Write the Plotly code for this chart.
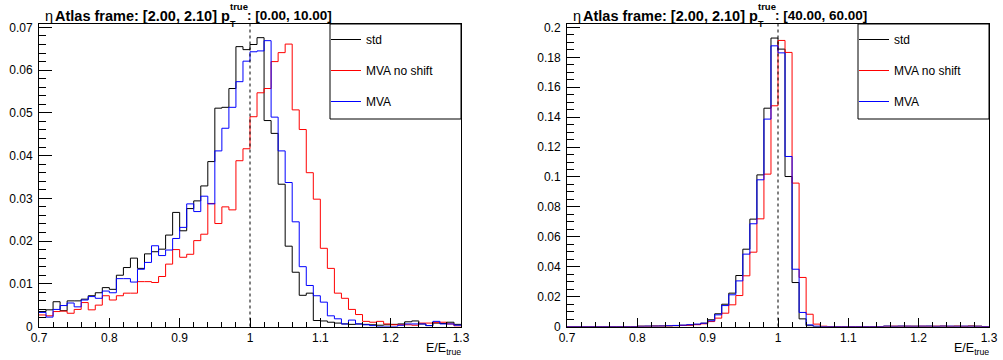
import plotly.graph_objects as go

# ---------------- data ----------------
bin_low = 0.70
bin_width = 0.01
n_bins = 60

series_names = ["std", "MVA no shift", "MVA"]

left_std = [0.0035, 0.0039, 0.0058, 0.0037, 0.0060, 0.0060, 0.0064, 0.0072, 0.0079, 0.0091,
            0.0087, 0.0120, 0.0138, 0.0160, 0.0136, 0.0170, 0.0175, 0.0181, 0.0214, 0.0267,
            0.0224, 0.0276, 0.0294, 0.0329, 0.0386, 0.0511, 0.0513, 0.0557, 0.0655, 0.0648,
            0.0660, 0.0676, 0.0482, 0.0452, 0.0333, 0.0188, 0.0127, 0.0073, 0.0078, 0.0014,
            0.0013, 0.0010, 0.0008, 0.0006, 0.0005, 0.0006, 0.0005, 0.0004, 0.0003, 0.0004,
            0.0005, 0.0006, 0.0011, 0.0013, 0.0006, 0.0002, 0.0008, 0.0007, 0.0010, 0.0005]

left_noshift = [0.0027, 0.0025, 0.0035, 0.0036, 0.0031, 0.0040, 0.0056, 0.0039, 0.0050, 0.0072,
                0.0062, 0.0072, 0.0078, 0.0078, 0.0105, 0.0105, 0.0103, 0.0117, 0.0146, 0.0180,
                0.0162, 0.0169, 0.0201, 0.0216, 0.0288, 0.0241, 0.0280, 0.0273, 0.0388, 0.0416,
                0.0491, 0.0547, 0.0557, 0.0620, 0.0641, 0.0661, 0.0507, 0.0461, 0.0360, 0.0298,
                0.0183, 0.0136, 0.0078, 0.0066, 0.0040, 0.0028, 0.0012, 0.0010, 0.0012, 0.0006,
                0.0004, 0.0004, 0.0004, 0.0003, 0.0008, 0.0008, 0.0009, 0.0010, 0.0006, 0.0001]

left_mva = [0.0033, 0.0022, 0.0040, 0.0049, 0.0055, 0.0046, 0.0062, 0.0070, 0.0066, 0.0083,
            0.0079, 0.0112, 0.0112, 0.0104, 0.0134, 0.0150, 0.0189, 0.0166, 0.0179, 0.0206,
            0.0232, 0.0287, 0.0269, 0.0305, 0.0287, 0.0411, 0.0464, 0.0513, 0.0573, 0.0621,
            0.0643, 0.0645, 0.0669, 0.0490, 0.0411, 0.0337, 0.0245, 0.0140, 0.0096, 0.0072,
            0.0057, 0.0025, 0.0018, 0.0006, 0.0015, 0.0006, 0.0004, 0.0002, 0.0000, 0.0000,
            0.0000, 0.0003, 0.0006, 0.0006, 0.0006, 0.0002, 0.0012, 0.0006, 0.0006, 0.0003]

right_std = [0.0, 0.0, 0.0, 0.0, 0.0, 0.0, 0.0, 0.0, 0.0, 0.0,
             0.0002, 0.0002, 0.0003, 0.0003, 0.0003, 0.0005, 0.0008, 0.0010, 0.0014, 0.0022,
             0.0045, 0.0085, 0.0149, 0.0223, 0.0341, 0.0517, 0.0718, 0.1014, 0.1460, 0.1929,
             0.1855, 0.1003, 0.0294, 0.0051, 0.0005, 0.0, 0.0, 0.0, 0.0, 0.0,
             0.0, 0.0, 0.0, 0.0, 0.0, 0.0002, 0.0001, 0.0002, 0.0001, 0.0002,
             0.0001, 0.0002, 0.0001, 0.0002, 0.0001, 0.0002, 0.0001, 0.0003, 0.0002, 0.0]

right_noshift = [0.0, 0.0, 0.0, 0.0, 0.0, 0.0, 0.0, 0.0, 0.0, 0.0,
                 0.0001, 0.0001, 0.0002, 0.0002, 0.0003, 0.0005, 0.0007, 0.0009, 0.0012, 0.0018,
                 0.0033, 0.0056, 0.0089, 0.0145, 0.0207, 0.0339, 0.0497, 0.0720, 0.1019, 0.1476,
                 0.1913, 0.1833, 0.0959, 0.0328, 0.0082, 0.0016, 0.0002, 0.0, 0.0, 0.0,
                 0.0, 0.0, 0.0, 0.0, 0.0, 0.0001, 0.0002, 0.0001, 0.0002, 0.0001,
                 0.0002, 0.0001, 0.0002, 0.0002, 0.0001, 0.0002, 0.0001, 0.0002, 0.0001, 0.0]

right_mva = [0.0, 0.0, 0.0, 0.0, 0.0, 0.0, 0.0, 0.0, 0.0, 0.0,
             0.0001, 0.0002, 0.0002, 0.0003, 0.0005, 0.0007, 0.0009, 0.0012, 0.0016, 0.0022,
             0.0038, 0.0078, 0.0140, 0.0212, 0.0305, 0.0484, 0.0687, 0.0981, 0.1387, 0.1877,
             0.1830, 0.1137, 0.0383, 0.0094, 0.0011, 0.0002, 0.0, 0.0, 0.0, 0.0,
             0.0, 0.0, 0.0, 0.0, 0.0, 0.0002, 0.0001, 0.0002, 0.0002, 0.0001,
             0.0002, 0.0002, 0.0001, 0.0002, 0.0002, 0.0001, 0.0002, 0.0001, 0.0001, 0.0]

x_ticks = [0.7, 0.8, 0.9, 1.0, 1.1, 1.2, 1.3]
ref_value = 1.0

left_title = ("[2.00, 2.10]", "[0.00, 10.00]")
right_title = ("[2.00, 2.10]", "[40.00, 60.00]")

# ---------------- layout helpers ----------------
W, H = 1003, 360
FONT = "Liberation Sans, Arial, Helvetica, sans-serif"
colors = ["#000000", "#ff0000", "#0000ff"]

edges = [round(bin_low + i * bin_width, 4) for i in range(n_bins + 1)]


def px(x):
    return x / W


def py(y):
    return 1 - y / H


fig = go.Figure()

panels = [
    dict(left=39, right=461, ymax=0.0708, dtick=0.01, minor=0.002,
         series=[left_std, left_noshift, left_mva], title=left_title,
         xa="x", ya="y", legend="legend"),
    dict(left=567, right=989, ymax=0.2023, dtick=0.02, minor=0.005,
         series=[right_std, right_noshift, right_mva], title=right_title,
         xa="x2", ya="y2", legend="legend2"),
]

top_px, bot_px = 24, 326.5
annotations = []
shapes = []

for pi, p in enumerate(panels):
    for si, (name, vals) in enumerate(zip(series_names, p["series"])):
        fig.add_trace(go.Scatter(
            x=edges, y=list(vals) + [vals[-1]],
            mode="lines", line=dict(color=colors[si], width=1, shape="hv"),
            name=name, xaxis=p["xa"], yaxis=p["ya"], legend=p["legend"],
            legendgroup=f"{p['legend']}_{si}", showlegend=True,
        ))

    ax_suffix = "" if pi == 0 else "2"
    fig.update_layout(**{
        "xaxis" + ax_suffix: dict(
            domain=[px(p["left"]), px(p["right"])], range=[edges[0], edges[-1]],
            anchor="y" + ax_suffix, tickvals=x_ticks, ticks="inside", ticklen=9,
            tickcolor="black", tickwidth=1, automargin=False,
            minor=dict(dtick=0.02, tick0=0.7, ticks="inside", ticklen=4.5, tickcolor="black"),
            showline=True, linecolor="black", linewidth=1, mirror=True,
            showgrid=False, zeroline=False,
            tickfont=dict(family=FONT, size=12, color="black"),
        ),
        "yaxis" + ax_suffix: dict(
            domain=[py(bot_px), py(top_px)], range=[0, p["ymax"]],
            anchor="x" + ax_suffix, dtick=p["dtick"], tick0=0, ticks="inside", ticklen=13,
            tickcolor="black", tickwidth=1, automargin=False,
            minor=dict(dtick=p["minor"], tick0=0, ticks="inside", ticklen=6.5, tickcolor="black"),
            showline=True, linecolor="black", linewidth=1, mirror=True,
            showgrid=False, zeroline=False, ticklabelstandoff=3,
            tickfont=dict(family=FONT, size=12, color="black"),
        ),
        p["legend"]: dict(
            x=px(p["right"] - 135), y=py(top_px + 1), xanchor="left", yanchor="top",
            bgcolor="rgba(0,0,0,0)", borderwidth=0, tracegroupgap=12,
            font=dict(family=FONT, size=12, color="black"),
        ),
    })

    # reference dotted line
    shapes.append(dict(type="line", xref=p["xa"], yref=p["ya"] + " domain",
                       x0=ref_value, x1=ref_value, y0=0, y1=1,
                       line=dict(color="black", width=1, dash="dot")))
    # legend box
    shapes.append(dict(type="rect", xref="paper", yref="paper",
                       x0=px(p["right"] - 131), x1=px(p["right"]),
                       y0=py(119), y1=py(top_px),
                       line=dict(color="black", width=1), fillcolor="white", layer="below"))

    L = p["left"]
    # title pieces
    annotations += [
        dict(text="η", x=px(L + 5), y=py(16), xanchor="left", yanchor="middle",
             font=dict(family=FONT, size=14.5, color="black")),
        dict(text=f"<b>Atlas frame: {p['title'][0]} p</b>", x=px(L + 15), y=py(16),
             xanchor="left", yanchor="middle", font=dict(family=FONT, size=14.5, color="black")),
        dict(text="<b>true</b>", x=px(L + 190), y=py(6), xanchor="left", yanchor="middle",
             font=dict(family=FONT, size=9.5, color="black")),
        dict(text="<b>T</b>", x=px(L + 190), y=py(24), xanchor="left", yanchor="middle",
             font=dict(family=FONT, size=9, color="black")),
        dict(text=f"<b>: {p['title'][1]}</b>", x=px(L + 207), y=py(16), xanchor="left",
             yanchor="middle", font=dict(family=FONT, size=13.5, color="black")),
        dict(text="E/E<sub>true</sub>", x=px(p["right"] + 1), y=py(349), xanchor="right",
             yanchor="middle", font=dict(family=FONT, size=12.5, color="black")),
    ]

for a in annotations:
    a.update(xref="paper", yref="paper", showarrow=False, borderpad=0)

fig.update_layout(
    width=W, height=H, margin=dict(l=0, r=0, t=0, b=0),
    paper_bgcolor="white", plot_bgcolor="white",
    annotations=annotations, shapes=shapes, showlegend=True,
    font=dict(family=FONT, color="black"),
)

fig.write_html("out.html")
